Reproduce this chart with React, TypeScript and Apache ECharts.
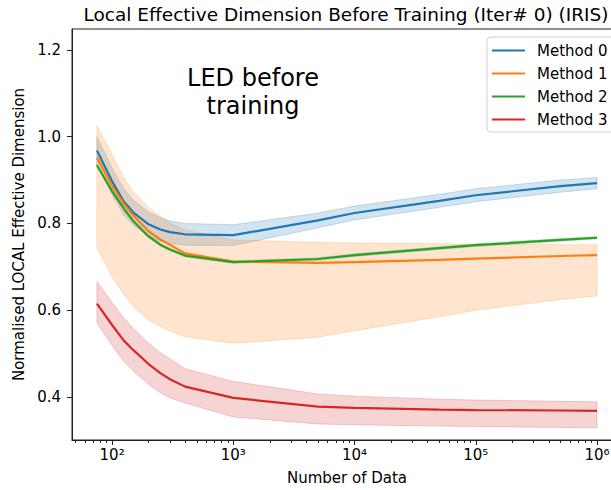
import { useEffect, useRef } from 'react';
import * as echarts from 'echarts';

const dataSizes = [75, 100, 125, 150, 200, 250, 300, 400, 1000, 5000, 10000, 50000, 100000, 500000, 1000000];
const methodNames = ['Method 0', 'Method 1', 'Method 2', 'Method 3'];
const methodColors = ['#1f77b4', '#ff7f0e', '#2ca02c', '#d62728'];

const mean0 = [0.968, 0.897, 0.850, 0.825, 0.798, 0.786, 0.780, 0.775, 0.773, 0.807, 0.824, 0.852, 0.865, 0.886, 0.893];
const upper0 = [1.000, 0.928, 0.880, 0.854, 0.826, 0.813, 0.806, 0.800, 0.797, 0.824, 0.840, 0.867, 0.880, 0.900, 0.906];
const lower0 = [0.936, 0.866, 0.820, 0.796, 0.770, 0.759, 0.754, 0.750, 0.749, 0.790, 0.808, 0.837, 0.850, 0.872, 0.880];

const mean1 = [0.952, 0.886, 0.845, 0.818, 0.782, 0.763, 0.751, 0.731, 0.712, 0.709, 0.711, 0.716, 0.719, 0.725, 0.727];
const upper1 = [1.025, 0.957, 0.905, 0.872, 0.836, 0.816, 0.801, 0.785, 0.762, 0.756, 0.755, 0.753, 0.752, 0.751, 0.751];
const lower1 = [0.744, 0.678, 0.636, 0.608, 0.578, 0.563, 0.552, 0.539, 0.524, 0.538, 0.553, 0.585, 0.600, 0.625, 0.633];

const mean2 = [0.934, 0.874, 0.834, 0.805, 0.770, 0.751, 0.740, 0.726, 0.711, 0.718, 0.727, 0.743, 0.750, 0.762, 0.767];
const upper2 = [0.937, 0.877, 0.837, 0.808, 0.773, 0.754, 0.743, 0.729, 0.714, 0.721, 0.730, 0.746, 0.753, 0.765, 0.770];
const lower2 = [0.931, 0.871, 0.831, 0.802, 0.767, 0.748, 0.737, 0.723, 0.708, 0.715, 0.724, 0.740, 0.747, 0.759, 0.764];

const mean3 = [0.615, 0.566, 0.530, 0.508, 0.476, 0.455, 0.441, 0.424, 0.398, 0.378, 0.375, 0.371, 0.370, 0.369, 0.368];
const upper3 = [0.666, 0.618, 0.582, 0.558, 0.524, 0.502, 0.488, 0.465, 0.436, 0.407, 0.402, 0.395, 0.393, 0.390, 0.389];
const lower3 = [0.571, 0.519, 0.482, 0.460, 0.429, 0.410, 0.398, 0.386, 0.354, 0.338, 0.336, 0.333, 0.332, 0.330, 0.329];

const means = [mean0, mean1, mean2, mean3];
const uppers = [upper0, upper1, upper2, upper3];
const lowers = [lower0, lower1, lower2, lower3];

const xMajorTicks = [100, 1000, 10000, 100000, 1000000];
const xMinorTicks = [
  50, 60, 70, 80, 90,
  200, 300, 400, 500, 600, 700, 800, 900,
  2000, 3000, 4000, 5000, 6000, 7000, 8000, 9000,
  20000, 30000, 40000, 50000, 60000, 70000, 80000, 90000,
  200000, 300000, 400000, 500000, 600000, 700000, 800000, 900000,
];
const yTicks = [0.4, 0.6, 0.8, 1.0, 1.2];
const supDigits: Record<string, string> = { '0': '⁰', '1': '¹', '2': '²', '3': '³', '4': '⁴', '5': '⁵', '6': '⁶' };

const titleText = 'Local Effective Dimension Before Training (Iter# 0) (IRIS)';
const xName = 'Number of Data';
const yName = 'Normalised LOCAL Effective Dimension';
const noteText = 'LED before\ntraining';

const FONT = 'DejaVu Sans';
const X_MIN = 46.7;
const X_MAX = 1607000;
const Y_MIN = 0.301;
const Y_MAX = 1.248;

function hexToRgba(hex: string, a: number) {
  const n = parseInt(hex.slice(1), 16);
  return `rgba(${(n >> 16) & 255},${(n >> 8) & 255},${n & 255},${a})`;
}

export default function App() {
  const ref = useRef<HTMLDivElement>(null);
  useEffect(() => {
    if (!ref.current) return;
    const chart = echarts.init(ref.current, undefined, { renderer: 'svg' });
    const series: any[] = [];
    for (let i = 0; i < 4; i++) {
      const c = methodColors[i];
      series.push({
        type: 'custom',
        name: `band${i}`,
        coordinateSystem: 'cartesian2d',
        xAxisIndex: 0,
        yAxisIndex: 0,
        silent: true,
        clip: true,
        z: 1,
        encode: { x: 0, y: [1, 2] },
        data: dataSizes.map((x, k) => [x, lowers[i][k], uppers[i][k]]),
        renderItem: (params: any, api: any) => {
          if (params.dataIndex !== 0) return null;
          const top = dataSizes.map((x, k) => api.coord([x, uppers[i][k]]));
          const bot = dataSizes.map((x, k) => api.coord([x, lowers[i][k]])).reverse();
          return {
            type: 'polygon',
            shape: { points: top.concat(bot) },
            style: { fill: hexToRgba(c, 0.2), stroke: hexToRgba(c, 0.22), lineWidth: 1 },
          };
        },
      });
    }
    for (let i = 0; i < 4; i++) {
      series.push({
        type: 'line',
        name: methodNames[i],
        data: dataSizes.map((x, k) => [x, means[i][k]]),
        symbol: 'none',
        showSymbol: false,
        color: methodColors[i],
        lineStyle: { width: 2.2, color: methodColors[i] },
        itemStyle: { color: methodColors[i] },
        z: 3,
      });
    }
    chart.setOption({
      animation: false,
      textStyle: { fontFamily: FONT },
      title: {
        text: titleText,
        left: 341,
        top: 0,
        textAlign: 'center',
        textStyle: { fontSize: 18.5, fontWeight: 'normal', color: '#000', fontFamily: FONT },
      },
      grid: {
        left: 72,
        top: 29,
        right: -11,
        bottom: 50,
        containLabel: false,
        outerBoundsMode: 'none',
        show: true,
        borderColor: '#222',
        borderWidth: 1,
        backgroundColor: 'transparent',
      },
      legend: {
        data: methodNames.map((n) => ({ name: n, icon: 'rect' })),
        orient: 'vertical',
        left: 487,
        top: 37,
        padding: [6, 12, 5, 5],
        itemWidth: 33,
        itemHeight: 2.2,
        itemGap: 8,
        backgroundColor: 'rgba(255,255,255,0.8)',
        borderColor: '#d0d0d0',
        borderWidth: 1,
        borderRadius: 4,
        textStyle: { fontSize: 15, lineHeight: 15, color: '#000', fontFamily: FONT, padding: [0, 0, 0, 7] },
      },
      xAxis: [
        {
          type: 'log',
          logBase: 10,
          min: X_MIN,
          max: X_MAX,
          position: 'bottom',
          name: xName,
          nameLocation: 'middle',
          nameGap: 30,
          nameTextStyle: { fontSize: 15, color: '#000', fontFamily: FONT },
          axisLine: { show: true, onZero: false, lineStyle: { color: '#222', width: 1 } },
          axisTick: { show: true, length: 5, customValues: xMajorTicks, lineStyle: { color: '#222' } },
          axisLabel: {
            customValues: xMajorTicks,
            fontSize: 15,
            color: '#000',
            margin: 7,
            fontFamily: FONT,
            formatter: (v: number) => {
              const e = String(Math.round(Math.log10(v)));
              return '10' + e.split('').map((d) => supDigits[d]).join('');
            },
          },
          splitLine: { show: false },
        },
        {
          type: 'log',
          logBase: 10,
          min: X_MIN,
          max: X_MAX,
          position: 'bottom',
          axisLine: { show: false },
          axisTick: { show: true, length: 3, customValues: xMinorTicks, lineStyle: { color: '#222' } },
          axisLabel: { show: false },
          splitLine: { show: false },
        },
      ],
      yAxis: {
        type: 'value',
        min: Y_MIN,
        max: Y_MAX,
        name: yName,
        nameLocation: 'middle',
        nameGap: 39,
        nameTextStyle: { fontSize: 15, color: '#000', fontFamily: FONT },
        axisLine: { show: true, onZero: false, lineStyle: { color: '#222', width: 1 } },
        axisTick: { show: true, length: 5, customValues: yTicks, lineStyle: { color: '#222' } },
        axisLabel: {
          customValues: yTicks,
          fontSize: 15,
          color: '#000',
          margin: 11,
          fontFamily: FONT,
          formatter: (v: number) => v.toFixed(1),
        },
        splitLine: { show: false },
      },
      graphic: [
        {
          type: 'text',
          x: 253,
          y: 92,
          z: 10,
          style: {
            text: noteText,
            fontSize: 24,
            lineHeight: 28,
            fontFamily: FONT,
            fill: '#000',
            align: 'center',
            verticalAlign: 'middle',
          },
        },
      ],
      series,
    });
    return () => chart.dispose();
  }, []);
  return (
    <div
      ref={ref}
      style={{ position: 'fixed', left: 0, top: 0, width: 611, height: 490, background: '#fff' }}
    />
  );
}
